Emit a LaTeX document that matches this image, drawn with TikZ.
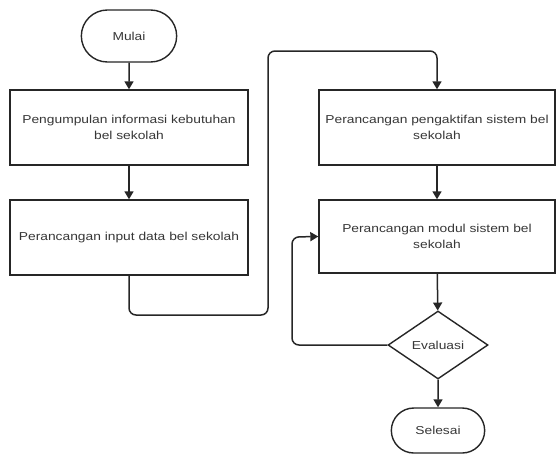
\documentclass[tikz,border=0pt]{standalone}
\usepackage{fontspec}
\setmainfont[FakeStretch=1.2]{Liberation Sans}
\usepackage{xcolor}
\usetikzlibrary{arrows.meta,shapes.geometric,shapes.misc,positioning}
\definecolor{garis}{RGB}{38,38,38}
\definecolor{tulisan}{RGB}{55,55,55}

\begin{document}
\begin{tikzpicture}[x=1pt,y=-1pt,
    font=\fontsize{11.5}{15.5}\selectfont,text=tulisan,
    proses/.style={draw=garis,line width=1.4pt,fill=white,
      minimum width=238pt,minimum height=75pt,align=center,inner sep=2pt},
    ujung/.style={draw=garis,line width=1.4pt,fill=white,rounded rectangle},
    putusan/.style={draw=garis,line width=1.4pt,fill=white,diamond,
      aspect=1.47,inner sep=0pt,minimum width=100pt,minimum height=68pt},
    panah/.style={draw=garis,line width=1.5pt,-{Triangle[length=8pt,width=9pt]}}]
  \useasboundingbox (0,0) rectangle (556,459);

  % kolom kiri
  \node[ujung,minimum width=102pt,minimum height=52pt] (mulai) at (129,36) {Mulai};
  \node[proses] (info) at (129,127.5) {Pengumpulan informasi kebutuhan\\bel sekolah};
  \node[proses] (input) at (129,237.5) {Perancangan input data bel sekolah};

  % kolom kanan
  \node[proses,minimum width=236pt] (aktif) at (437,127.5) {Perancangan pengaktifan sistem bel\\sekolah};
  \node[proses,minimum width=236pt,minimum height=73pt] (modul) at (437,236.5) {Perancangan modul sistem bel\\sekolah};
  \node[putusan] (evaluasi) at (438,345) {Evaluasi};
  \node[ujung,minimum width=100pt,minimum height=45pt] (selesai) at (438,430.5) {Selesai};

  \coordinate (belok1) at (268,315);
  \coordinate (belok2) at (268,51);
  \coordinate (balik) at (292,237);

  \draw[panah] (mulai) -- (info);
  \draw[panah] (info) -- (input);
  \draw[panah,rounded corners=7pt] (input.south) |- (belok1) -- (belok2) -| (aktif.north);
  \draw[panah] (aktif) -- (modul);
  \draw[panah] (modul) -- (evaluasi);
  \draw[panah,rounded corners=7pt] (evaluasi.west) -| (balik) -- (modul.west);
  \draw[panah] (evaluasi) -- (selesai);
\end{tikzpicture}
\end{document}
